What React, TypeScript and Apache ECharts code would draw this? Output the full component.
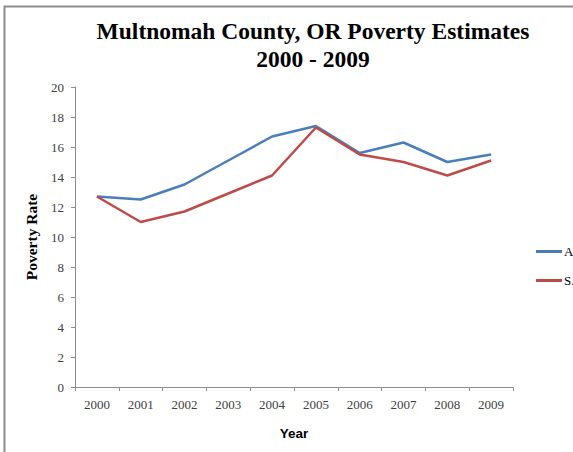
import React, { useEffect, useRef } from "react";
import * as echarts from "echarts";

const years = ["2000", "2001", "2002", "2003", "2004", "2005", "2006", "2007", "2008", "2009"];
const seriesA = [12.7, 12.5, 13.5, 15.1, 16.7, 17.4, 15.6, 16.3, 15.0, 15.5];
const seriesS = [12.7, 11.0, 11.7, 12.9, 14.1, 17.3, 15.5, 15.0, 14.1, 15.1];
const seriesNames = ["A", "S."];

const SERIF = "'Liberation Serif', 'Times New Roman', serif";

export default function App() {
  const ref = useRef<HTMLDivElement>(null);
  useEffect(() => {
    const chart = echarts.init(ref.current!, null, { renderer: "svg" });
    const axisGray = "#8c8c8c";
    chart.setOption({
      animation: false,
      backgroundColor: "#ffffff",
      graphic: [
        {
          type: "rect",
          shape: { x: 4.5, y: 6.5, width: 700, height: 600 },
          style: { fill: "none", stroke: "#8c8c8c", lineWidth: 2 },
          silent: true,
        },
      ],
      title: {
        text: "Multnomah County, OR Poverty Estimates\n2000 - 2009",
        left: 308,
        top: 12,
        textAlign: "center",
        textStyle: {
          fontFamily: SERIF,
          fontWeight: "bold",
          fontSize: 23.5,
          lineHeight: 28,
          color: "#000000",
        },
      },
      legend: {
        orient: "vertical",
        left: 531,
        top: 240,
        itemWidth: 26,
        itemHeight: 3,
        itemGap: 16,
        icon: "rect",
        textStyle: { fontFamily: SERIF, fontSize: 13, color: "#000", padding: [0, 0, 0, -3] },
        data: seriesNames,
      },
      grid: { left: 75, top: 87, right: 60, bottom: 65, containLabel: false },
      xAxis: {
        type: "category",
        data: years,
        boundaryGap: true,
        name: "Year",
        nameLocation: "middle",
        nameGap: 39,
        nameTextStyle: { fontFamily: "'Liberation Sans', Arial, sans-serif", fontWeight: "bold", fontSize: 13.5, color: "#000" },
        axisLine: { lineStyle: { color: axisGray, width: 1 } },
        axisTick: { show: true, alignWithLabel: false, length: 4, lineStyle: { color: axisGray } },
        axisLabel: { fontFamily: SERIF, fontSize: 13, color: "#404040", margin: 11 },
        splitLine: { show: false },
      },
      yAxis: {
        type: "value",
        min: 0,
        max: 20,
        interval: 2,
        name: "Poverty Rate",
        nameLocation: "middle",
        nameGap: 36,
        nameRotate: 90,
        nameTextStyle: { fontFamily: SERIF, fontWeight: "bold", fontSize: 15.5, color: "#000" },
        axisLine: { show: true, lineStyle: { color: axisGray, width: 1 } },
        axisTick: { show: true, length: 4, lineStyle: { color: axisGray } },
        axisLabel: { fontFamily: SERIF, fontSize: 13, color: "#404040", margin: 11 },
        splitLine: { show: false },
      },
      series: [
        {
          name: seriesNames[0],
          type: "line",
          data: seriesA,
          symbol: "none",
          color: "#4A7EBB",
          lineStyle: { width: 2.5, color: "#4A7EBB" },
        },
        {
          name: seriesNames[1],
          type: "line",
          data: seriesS,
          symbol: "none",
          color: "#BE4B48",
          lineStyle: { width: 2.5, color: "#BE4B48" },
        },
      ],
    });
    return () => chart.dispose();
  }, []);
  return (
    <div
      ref={ref}
      style={{ position: "fixed", left: 0, top: 0, width: 573, height: 452, background: "#fff" }}
    />
  );
}
